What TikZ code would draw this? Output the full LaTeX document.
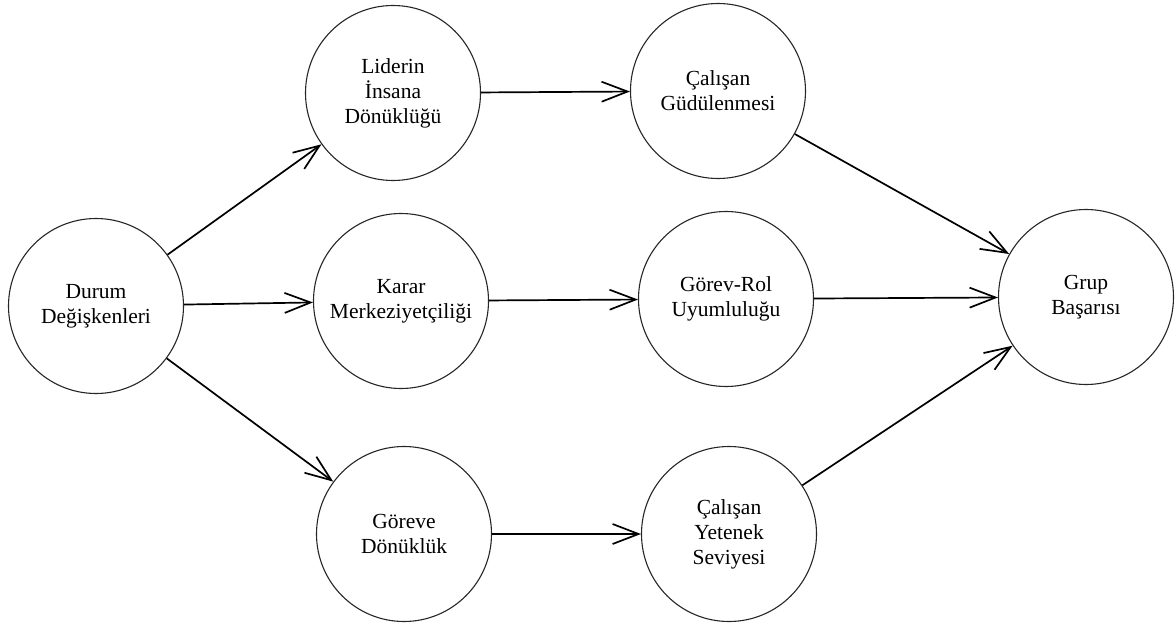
\documentclass[tikz,border=0pt]{standalone}
\usepackage{fontspec}
\setmainfont{Liberation Serif}
\usetikzlibrary{arrows.meta}
\begin{document}
\begin{tikzpicture}[x=1pt, y={(0pt,-1pt)},
  factor/.style={circle, draw=black!85, line width=1.1pt, minimum size=175pt,
    inner sep=0pt, align=center, font=\fontsize{21.5}{25}\selectfont},
  link/.style={line width=1.7pt, -{Straight Barb[length=26pt, width=20pt, line width=1.7pt]},
    shorten >=0pt}]
  \useasboundingbox (0,0) rectangle (1176,626);

  % factors
  \node[factor] (durum) at (96,306) {Durum\\Değişkenleri};
  \node[factor] (lider) at (393,93) {Liderin\\İnsana\\Dönüklüğü};
  \node[factor] (karar) at (401,301) {Karar\\Merkeziyetçiliği};
  \node[factor] (gorevd) at (404,534) {Göreve\\Dönüklük};
  \node[factor] (gudu) at (718,91) {Çalışan\\Güdülenmesi};
  \node[factor] (rol) at (726,299) {Görev-Rol\\Uyumluluğu};
  \node[factor] (yetenek) at (729,534) {Çalışan\\Yetenek\\Seviyesi};
  \node[factor] (grup) at (1086,297) {Grup\\Başarısı};

  % influences
  \draw[link] (durum) -- (lider);
  \draw[link] (durum) -- (karar);
  \draw[link] (durum) -- (gorevd);
  \draw[link] (lider) -- (gudu);
  \draw[link] (karar) -- (rol);
  \draw[link] (gorevd) -- (yetenek);
  \draw[link] (gudu) -- (grup);
  \draw[link] (rol) -- (grup);
  \draw[link] (yetenek) -- (grup);
\end{tikzpicture}
\end{document}
